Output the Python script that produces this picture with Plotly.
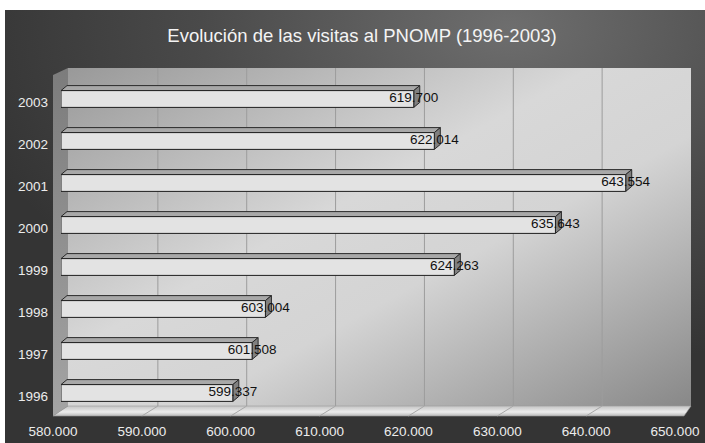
import base64
import plotly.graph_objects as go

# ---- data ----
years = ["1996", "1997", "1998", "1999", "2000", "2001", "2002", "2003"]
visits = [599337, 601508, 603004, 624263, 635643, 643554, 622014, 619700]
x_ticks = [580000, 590000, 600000, 610000, 620000, 630000, 640000, 650000]
title_text = "Evolución de las visitas al PNOMP (1996-2003)"

# ---- geometry (pixels) ----
W, H = 705, 443
L, R, T, B = 61, 683, 78, 414
X_MIN, X_MAX = x_ticks[0], x_ticks[-1]
units_per_px = (X_MAX - X_MIN) / (R - L)
px_per_cat = (B - T) / len(years)
DEPTH_X, DEPTH_Y = 6, 5  # bar depth in px
dxu = DEPTH_X * units_per_px
dyu = DEPTH_Y / px_per_cat
HALF = 0.2

FONT = "Liberation Sans, Arial, sans-serif"

svg = f"""<svg xmlns='http://www.w3.org/2000/svg' width='{W}' height='{H}' viewBox='0 0 {W} {H}' preserveAspectRatio='none'>
<defs>
<radialGradient id='bg' cx='0.72' cy='0.04' r='0.8'>
<stop offset='0' stop-color='#6e6e6e'/><stop offset='0.55' stop-color='#4a4a4a'/><stop offset='1' stop-color='#343434'/>
</radialGradient>
<linearGradient id='wall' x1='0' y1='0' x2='1' y2='1'>
<stop offset='0' stop-color='#999999'/><stop offset='0.42' stop-color='#d8d8d8'/><stop offset='0.6' stop-color='#d4d4d4'/><stop offset='1' stop-color='#888888'/>
</linearGradient>
<linearGradient id='side' x1='0' y1='0' x2='0' y2='1'>
<stop offset='0' stop-color='#7c7c7c'/><stop offset='1' stop-color='#a4a4a4'/>
</linearGradient>
<linearGradient id='floor' x1='0' y1='0' x2='0' y2='1'>
<stop offset='0' stop-color='#c4c4c4'/><stop offset='0.6' stop-color='#ececec'/><stop offset='1' stop-color='#b8b8b8'/>
</linearGradient>
</defs>
<rect x='0' y='0' width='{W}' height='{H}' fill='#ffffff'/>
<rect x='5' y='10' width='{W-5}' height='{H-10}' fill='url(#bg)'/>
<polygon points='53,75 68,68 68,406 53,416' fill='url(#side)'/>
<rect x='68' y='68' width='623' height='338' fill='url(#wall)'/>
<polygon points='53,416 684,416 691,406 68,406' fill='url(#floor)' stroke='#9a9a9a' stroke-width='0.6'/>
</svg>"""
src = "data:image/svg+xml;base64," + base64.b64encode(svg.encode()).decode()

fig = go.Figure()

ypos = list(range(len(years)))

fig.add_trace(go.Bar(
    orientation="h",
    y=ypos,
    x=[v - X_MIN for v in visits],
    base=[X_MIN] * len(visits),
    width=2 * HALF,
    marker=dict(color="#e3e3e3", line=dict(color="#1e1e1e", width=1)),
    hoverinfo="skip",
))

fig.add_trace(go.Scatter(
    x=visits,
    y=ypos,
    mode="text",
    text=[f"{v:,}".replace(",", ".") for v in visits],
    textposition="middle center",
    textfont=dict(family=FONT, size=13.5, color="#111111"),
    cliponaxis=False,
    hoverinfo="skip",
))

shapes = []
# back-wall gridlines
for t in x_ticks[1:-1]:
    shapes.append(dict(type="line", xref="x", xsizemode="pixel", xanchor=t, x0=8, x1=8,
                       yref="paper", y0=(B - 406) / (B - T), y1=(B - 68) / (B - T),
                       line=dict(color="#9c9c9c", width=1), layer="below"))
    shapes.append(dict(type="path", xref="x", xsizemode="pixel", xanchor=t,
                       yref="paper", ysizemode="pixel", yanchor=0,
                       path=f"M8,{B - 406} L-8,{B - 416}", line=dict(color="#a8a8a8", width=1), layer="below"))

# 3D faces of the bars
for i, v in enumerate(visits):
    y0 = i + HALF
    top = (f"M{X_MIN},{y0} L{v},{y0} L{v + dxu},{y0 + dyu} "
           f"L{X_MIN + dxu},{y0 + dyu} Z")
    shapes.append(dict(type="path", xref="x", yref="y", path=top,
                       fillcolor="#a8a8a8", line=dict(color="#2a2a2a", width=1), layer="between"))
    side = (f"M{v},{i - HALF} L{v},{y0} L{v + dxu},{y0 + dyu} "
            f"L{v + dxu},{i - HALF + dyu} Z")
    shapes.append(dict(type="path", xref="x", yref="y", path=side,
                       fillcolor="#808080", line=dict(color="#2a2a2a", width=1), layer="between"))

fig.update_layout(
    width=W, height=H, autosize=False,
    margin=dict(l=L, r=W - R, t=T, b=H - B, pad=0, autoexpand=False),
    paper_bgcolor="#ffffff",
    plot_bgcolor="rgba(0,0,0,0)",
    separators=",.",
    showlegend=False,
    bargap=0.6,
    title=dict(text=title_text, x=362 / W, xanchor="center", y=1 - 36 / H, yanchor="middle",
               font=dict(family=FONT, size=18.5, color="#f4f4f4")),
    images=[dict(source=src, xref="paper", yref="paper",
                 x=-L / (R - L), y=B / (B - T), sizex=W / (R - L), sizey=H / (B - T),
                 xanchor="left", yanchor="top", sizing="stretch", layer="below")],
    shapes=shapes,
    xaxis=dict(range=[X_MIN, X_MAX], tickvals=x_ticks, tickformat=",d", automargin=False,
               showgrid=False, zeroline=False, showline=False, ticks="",
               ticklabelshift=-8, ticklabelstandoff=7,
               tickfont=dict(family=FONT, size=13.5, color="#ececec")),
    yaxis=dict(range=[-0.5, len(years) - 0.5], tickvals=ypos, ticktext=years, automargin=False,
               showgrid=False, zeroline=False, showline=False, ticks="",
               ticklabelshift=3, ticklabelstandoff=12,
               tickfont=dict(family=FONT, size=13.5, color="#ececec")),
)

fig.write_html("out.html", config={"displayModeBar": False},
               post_script="document.body.style.margin='0';")
